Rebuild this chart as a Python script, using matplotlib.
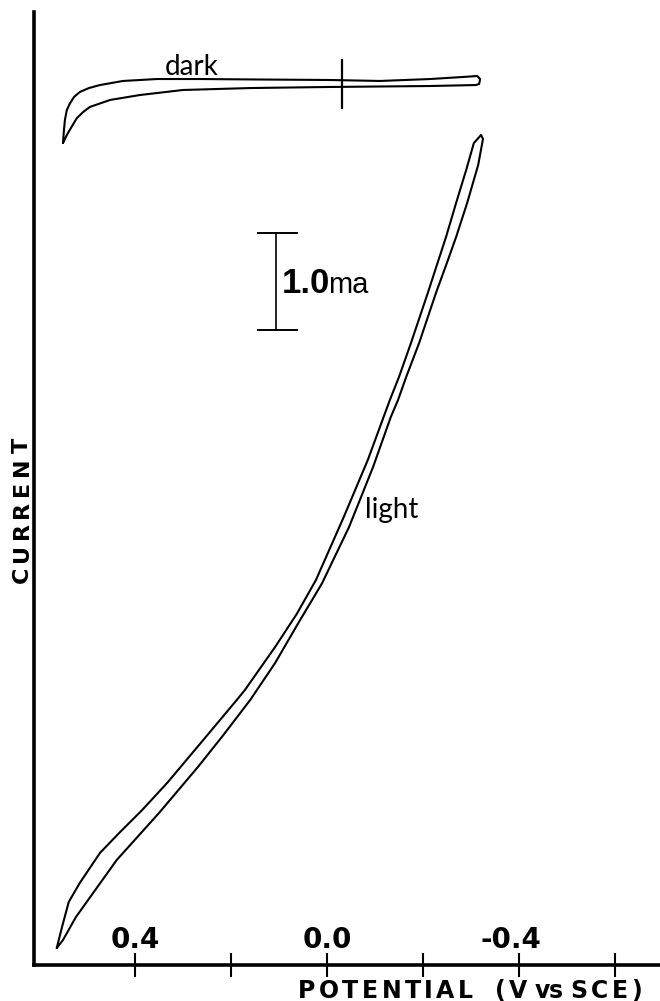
import matplotlib
matplotlib.use("Agg")
import matplotlib.pyplot as plt
from matplotlib.transforms import IdentityTransform

# ---- data: potential (V vs SCE) and current (mA, anodic drawn downward) ----
light_fwd_potential = [0.563, 0.552, 0.538, 0.515, 0.473, 0.433, 0.385, 0.333, 0.263,
                       0.188, 0.171, 0.108, 0.063, 0.023, -0.035, -0.085, -0.131,
                       -0.150, -0.175, -0.210, -0.231, -0.248, -0.269, -0.290,
                       -0.306, -0.321]
light_fwd_current = [8.918, 8.701, 8.443, 8.247, 7.938, 7.732, 7.495, 7.216, 6.804,
                     6.361, 6.258, 5.814, 5.474, 5.124, 4.474, 3.887, 3.268,
                     3.031, 2.680, 2.165, 1.845, 1.588, 1.237, 0.897,
                     0.619, 0.536]

light_rev_potential = [-0.325, -0.315, -0.292, -0.269, -0.252, -0.227, -0.192, -0.165,
                       -0.148, -0.133, -0.096, -0.046, 0.010, 0.031, 0.056, 0.108,
                       0.160, 0.219, 0.269, 0.350, 0.438, 0.523, 0.550, 0.563]
light_rev_current = [0.577, 0.845, 1.237, 1.588, 1.825, 2.165, 2.680, 3.031,
                     3.268, 3.443, 3.959, 4.577, 5.155, 5.330, 5.536, 5.979,
                     6.361, 6.742, 7.052, 7.526, 8.010, 8.598, 8.835, 8.918]

dark_fwd_potential = [0.550, 0.548, 0.546, 0.542, 0.535, 0.527, 0.515, 0.496, 0.473,
                      0.425, 0.354, 0.265, 0.140, -0.006, -0.110, -0.215, -0.283,
                      -0.313, -0.319, -0.317]
dark_fwd_current = [0.619, 0.485, 0.381, 0.278, 0.206, 0.144, 0.093, 0.052, 0.021,
                    -0.021, -0.041, -0.041, -0.036, -0.031, -0.021, -0.041, -0.062,
                    -0.072, -0.041, 0.010]

dark_rev_potential = [-0.310, -0.215, -0.006, 0.160, 0.300, 0.390, 0.452, 0.494,
                      0.508, 0.521, 0.531, 0.542, 0.550]
dark_rev_current = [0.021, 0.031, 0.041, 0.052, 0.072, 0.124, 0.175, 0.247,
                    0.299, 0.361, 0.443, 0.536, 0.619]

# potential marker on the dark trace
marker_potential = -0.031
marker_current_span = [-0.237, 0.258]

tick_values = [0.4, 0.2, 0.0, -0.2, -0.4, -0.6]
labeled_ticks = [0.4, 0.0, -0.4]
tick_labels = ["0.4", "0.0", "-0.4"]

scale_bar_ma = 1.0
scale_bar_potential = 0.106
scale_bar_top = 1.546

W, H = 660, 1001
NARROW = "Liberation Sans"
WIDE = "DejaVu Sans"
HAND = "Lato"

fig = plt.figure(figsize=(W / 100, H / 100), dpi=100)
ax = fig.add_axes([34 / W, 36 / H, 1 - 34 / W, 953 / H])
ax.set_xlim(0.6104, -0.6938)
ax.set_ylim(9.093, -0.732)

for s in ("top", "right"):
    ax.spines[s].set_visible(False)
for s in ("left", "bottom"):
    ax.spines[s].set_linewidth(2.6)
    ax.spines[s].set_color("black")

ax.set_xticks(tick_values)
ax.tick_params(axis="x", direction="inout", length=17, width=1.5,
               labelbottom=False, color="black")
ax.tick_params(axis="y", left=False, labelleft=False)

line_kw = dict(color="black", lw=1.5, solid_joinstyle="round", solid_capstyle="round")

# light loop
ax.plot(light_fwd_potential + light_rev_potential,
        light_fwd_current + light_rev_current, **line_kw)
# dark loop
ax.plot(dark_fwd_potential + dark_rev_potential,
        dark_fwd_current + dark_rev_current, **line_kw)
ax.plot([marker_potential, marker_potential], marker_current_span,
        color="black", lw=1.6)

# current scale bar
sb_bottom = scale_bar_top + scale_bar_ma
ax.plot([scale_bar_potential] * 2, [scale_bar_top, sb_bottom], color="black", lw=1.2)
for yv in (scale_bar_top, sb_bottom):
    ax.plot([0.144, 0.0625], [yv, yv], color="black", lw=1.4)
ax.text(0.094, 2.165, f"{scale_bar_ma:.1f}", family=NARROW, weight="bold",
        fontsize=25, ha="left", va="baseline")
ax.text(-0.002, 2.165, "ma", family=NARROW, fontsize=21, ha="left", va="baseline")

# curve labels
ax.text(0.3375, -0.082, "dark", family=HAND, fontsize=20, ha="left", va="baseline")
ax.text(-0.079, 4.484, "light", family=HAND, fontsize=20, ha="left", va="baseline")

# tick labels sitting above the axis
for v, lab in zip(labeled_ticks, tick_labels):
    dx = -6 if lab.startswith("-") else 0
    ax.annotate(lab, xy=(v, 0), xycoords=("data", "axes fraction"),
                xytext=(dx, 12.2), textcoords="offset points",
                ha="center", va="baseline", family=WIDE, weight="bold", fontsize=20)

renderer = fig.canvas.get_renderer()


def spaced_text(text, start, end, anchor, vertical=False, **kw):
    """Draw text letter by letter so that it spans start..end display pixels."""
    widths = []
    for ch in text:
        t = fig.text(0, 0, ch, transform=IdentityTransform(), **kw)
        widths.append(t.get_window_extent(renderer).width)
        t.remove()
    gap = (end - start - sum(widths)) / max(len(text) - 1, 1)
    pos = start
    for ch, w in zip(text, widths):
        if vertical:
            fig.text(anchor, pos, ch, transform=IdentityTransform(), rotation=90,
                     rotation_mode="anchor", ha="left", va="baseline", **kw)
        else:
            fig.text(pos, anchor, ch, transform=IdentityTransform(),
                     ha="left", va="baseline", **kw)
        pos += w + gap


label_kw = dict(family=WIDE, weight="bold", fontsize=17)
base = 3
spaced_text("POTENTIAL", 298, 473, base, **label_kw)
spaced_text("(V", 495, 527, base, **label_kw)
spaced_text("vs", 535, 563, base, **label_kw)
spaced_text("SCE)", 570, 642, base, **label_kw)

spaced_text("CURRENT", H - 583, H - 438, 28, vertical=True,
            family=WIDE, weight="bold", fontsize=16)

fig.savefig("out.png", dpi=100)
